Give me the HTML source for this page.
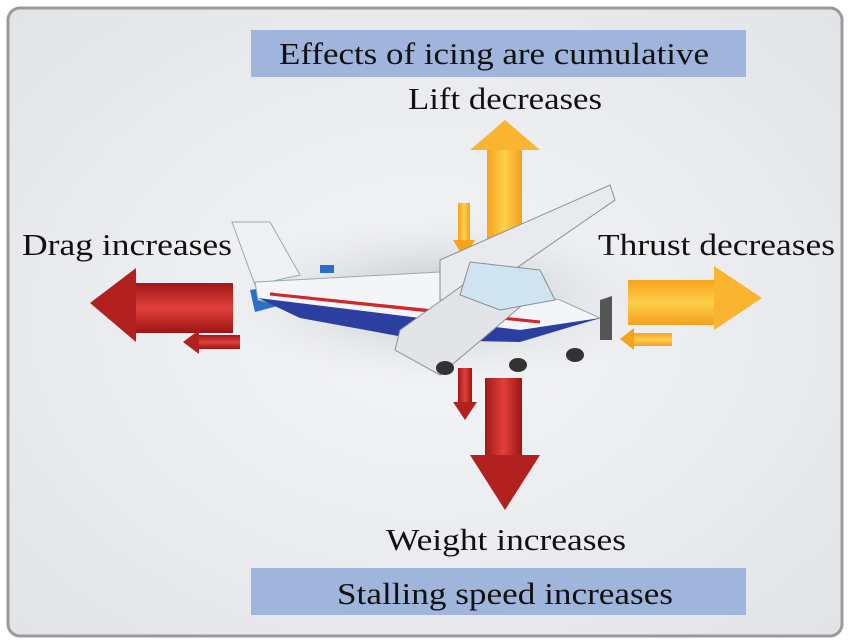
<!DOCTYPE html>
<html><head><meta charset="utf-8"><style>
body{margin:0;width:850px;height:644px;background:#fff;overflow:hidden}
svg{display:block}
text{font-family:"Liberation Serif",serif;fill:#111}
</style></head><body>
<svg width="850" height="644" viewBox="0 0 850 644">
<defs>
<radialGradient id="bg" cx="0.5" cy="0.5" r="0.7"><stop offset="0" stop-color="#f4f5f7"/><stop offset="1" stop-color="#e2e4e8"/></radialGradient>
<linearGradient id="org" x1="0" x2="1"><stop offset="0" stop-color="#f7a21c"/><stop offset="0.5" stop-color="#fcd04a"/><stop offset="1" stop-color="#f5a020"/></linearGradient>
<linearGradient id="orgv" x1="0" x2="0" y1="0" y2="1"><stop offset="0" stop-color="#f7a21c"/><stop offset="0.5" stop-color="#fcd04a"/><stop offset="1" stop-color="#f5a020"/></linearGradient>
<linearGradient id="red" x1="0" x2="1"><stop offset="0" stop-color="#a01818"/><stop offset="0.5" stop-color="#e0413a"/><stop offset="1" stop-color="#9c1414"/></linearGradient>
<linearGradient id="redv" x1="0" x2="0" y1="0" y2="1"><stop offset="0" stop-color="#a01818"/><stop offset="0.5" stop-color="#e0413a"/><stop offset="1" stop-color="#9c1414"/></linearGradient>
<radialGradient id="shadow" cx="0.5" cy="0.5" r="0.5"><stop offset="0" stop-color="#b8bcc2"/><stop offset="1" stop-color="#e6e8eb" stop-opacity="0"/></radialGradient>
</defs>
<rect x="8" y="8" width="834" height="628" rx="12" fill="url(#bg)" stroke="#9a9a9a" stroke-width="3"/>
<rect x="251" y="30" width="495" height="47" fill="#9fb5dc"/>
<text x="279" y="64" font-size="31" textLength="430" lengthAdjust="spacingAndGlyphs">Effects of icing are cumulative</text>
<rect x="251" y="568" width="495" height="47" fill="#9fb5dc"/>
<text x="337" y="604" font-size="31" textLength="336" lengthAdjust="spacingAndGlyphs">Stalling speed increases</text>
<text x="408" y="109" font-size="31" textLength="194" lengthAdjust="spacingAndGlyphs">Lift decreases</text>
<text x="22" y="255" font-size="31" textLength="210" lengthAdjust="spacingAndGlyphs">Drag increases</text>
<text x="598" y="255" font-size="31" textLength="237" lengthAdjust="spacingAndGlyphs">Thrust decreases</text>
<text x="386" y="550" font-size="31" textLength="240" lengthAdjust="spacingAndGlyphs">Weight increases</text>
<ellipse cx="440" cy="300" rx="230" ry="90" fill="url(#shadow)"/>
<g><rect x="487" y="148" width="35" height="102" fill="url(#org)"/><polygon points="470,150 540,150 505,120" fill="#f9b530"/></g>
<g><rect x="458" y="203" width="12" height="40" fill="url(#org)"/><polygon points="453,240 475,240 464,258" fill="#f7a21c"/></g>
<g><rect x="133" y="283" width="100" height="50" fill="url(#redv)"/><polygon points="136,268 136,342 90,303" fill="#b32020"/></g>
<g><rect x="197" y="335" width="43" height="14" fill="url(#redv)"/><polygon points="199,330 199,354 183,342" fill="#b32020"/></g>
<g><rect x="628" y="280" width="90" height="45" fill="url(#orgv)"/><polygon points="714,266 714,330 762,298" fill="#f9b530"/></g>
<g><rect x="632" y="333" width="40" height="13" fill="url(#orgv)"/><polygon points="634,328 634,350 620,339" fill="#f7a21c"/></g>
<g><rect x="485" y="378" width="37" height="80" fill="url(#red)"/><polygon points="470,455 540,455 505,510" fill="#b32020"/></g>
<g><rect x="458" y="368" width="14" height="36" fill="url(#red)"/><polygon points="453,402 477,402 465,420" fill="#b32020"/></g>
<g>
<polygon points="232,222 270,222 300,275 255,285" fill="#f0f1f4" stroke="#9aa" stroke-width="1"/>
<polygon points="250,290 300,282 300,300 255,312" fill="#2b6fc8"/>
<polygon points="255,282 440,272 560,300 600,318 520,340 420,335 300,310 258,300" fill="#f4f5f8" stroke="#9aa"/>
<polygon points="258,298 420,318 520,330 600,318 520,342 420,340 300,318" fill="#2a3fa0"/>
<polygon points="270,294 420,310 540,322" fill="none" stroke="#d02828" stroke-width="3"/>
<polygon points="440,260 610,185 615,200 470,300 440,300" fill="#e8eaee" stroke="#8a8f96"/>
<polygon points="400,330 470,280 540,290 440,375 395,350" fill="#e2e4e8" stroke="#8a8f96"/>
<polygon points="470,262 540,270 555,300 500,310 460,295" fill="#cfe4f0" stroke="#8a8f96"/>
<polygon points="600,300 612,296 612,340 600,340" fill="#555"/>
<ellipse cx="445" cy="368" rx="9" ry="7" fill="#333"/>
<ellipse cx="575" cy="355" rx="9" ry="7" fill="#333"/>
<ellipse cx="518" cy="365" rx="9" ry="7" fill="#333"/>
<rect x="320" y="265" width="14" height="8" fill="#2b6fc8"/>
</g>
</svg>
</body></html>
